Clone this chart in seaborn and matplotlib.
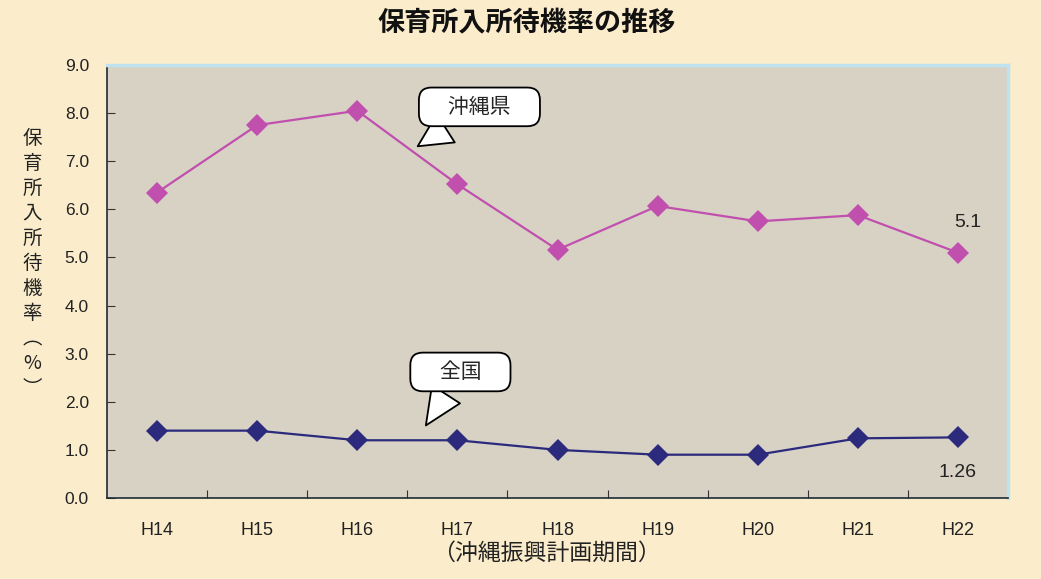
import pandas as pd
import matplotlib
matplotlib.use("Agg")
import matplotlib.pyplot as plt
import seaborn as sns

years = ["H14", "H15", "H16", "H17", "H18", "H19", "H20", "H21", "H22"]
okinawa = [6.35, 7.75, 8.05, 6.52, 5.16, 6.07, 5.75, 5.88, 5.1]
national = [1.4, 1.4, 1.2, 1.2, 1.0, 0.9, 0.9, 1.24, 1.26]
y_ticks = [0, 1, 2, 3, 4, 5, 6, 7, 8, 9]

sns.set_theme(style="white")
plt.rcParams["font.family"] = ["Liberation Sans", "Noto Sans CJK JP", "DejaVu Sans"]

df = pd.DataFrame({
    "year": years * 2,
    "rate": okinawa + national,
    "area": ["沖縄県"] * len(years) + ["全国"] * len(years),
})

fig = plt.figure(figsize=(10.41, 5.79), dpi=100)
fig.patch.set_facecolor("#fbedcc")
ax = fig.add_axes([0.1028, 0.1399, 0.8655, 0.7478])
ax.set_facecolor("#d8d2c5")

sns.lineplot(data=df, x="year", y="rate", hue="area", palette={"沖縄県": "#c04fae", "全国": "#2b2a7c"},
             marker="D", markersize=11, markeredgewidth=0, linewidth=1.6, legend=False, ax=ax)

ax.set_xlim(-0.5, len(years) - 0.5)
ax.set_ylim(0, 9)
ax.set_yticks(y_ticks)
ax.set_yticklabels([f"{v:.1f}" for v in y_ticks], fontsize=12.5, color="#222222")
ax.set_xticks(range(len(years)))
ax.set_xticklabels(years, fontsize=13, color="#222222")
ax.set_xticks([i + 0.5 for i in range(len(years) - 1)], minor=True)
ax.tick_params(axis="y", direction="in", length=6, width=0.8, color="#333333", pad=13, left=True)
ax.tick_params(axis="x", which="major", length=0, pad=17)
ax.tick_params(axis="x", which="minor", direction="in", length=6, width=0.8, color="#333333", bottom=True)

for side in ["left", "bottom"]:
    ax.spines[side].set_color("#1e2b36")
    ax.spines[side].set_linewidth(1.2)
for side in ["top", "right"]:
    ax.spines[side].set_color("#bfe3ee")
    ax.spines[side].set_linewidth(2.5)

ax.set_xlabel("")
ax.set_ylabel("")

fig.text(0.506, 0.96, "保育所入所待機率の推移", ha="center", va="center", fontsize=19.5,
         fontweight="bold", family=["Noto Sans CJK JP"], color="#111111")
fig.text(0.031, 0.545, "\n".join(list("保育所入所待機率") + ["︵", "%", "︶"]), ha="center", va="center",
         fontsize=14, linespacing=1.25, family=["Noto Sans CJK JP", "DejaVu Sans"], color="#222222")
fig.text(0.525, 0.045, "（沖縄振興計画期間）", ha="center", va="center", fontsize=16.5,
         family=["Noto Sans CJK JP"], color="#222222")

# end-point value labels
ax.text(8.1, 5.55, "5.1", ha="center", va="bottom", fontsize=14, color="#222222")
ax.text(8.0, 0.7, "1.26", ha="center", va="top", fontsize=14, color="#222222")

# speech-bubble callouts
bubble = dict(boxstyle="round,pad=0.4,rounding_size=0.6", fc="white", ec="black", lw=1.3)
wedge = dict(arrowstyle="wedge,tail_width=1.6,shrink_factor=0.5", fc="white", ec="black", lw=1.3)
ax.annotate("\u3000沖縄県\u3000", xy=(2.58, 7.28), xytext=(3.22, 8.13), ha="center", va="center",
            fontsize=15, family=["Noto Sans CJK JP"], bbox=bubble, arrowprops=wedge)
ax.annotate("\u3000全国\u3000", xy=(2.67, 1.46), xytext=(3.03, 2.62), ha="center", va="center",
            fontsize=15, family=["Noto Sans CJK JP"], bbox=bubble, arrowprops=wedge)

fig.savefig("out.png", dpi=100, facecolor=fig.get_facecolor())
